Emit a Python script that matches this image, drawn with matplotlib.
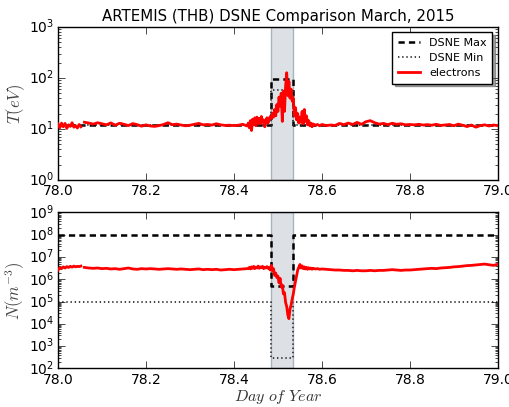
import numpy as np
import matplotlib
matplotlib.use("Agg")
import matplotlib.pyplot as plt
from matplotlib.ticker import FixedLocator, FormatStrFormatter

plt.style.use('classic')
plt.rcParams['figure.facecolor'] = 'white'
plt.rcParams['savefig.facecolor'] = 'white'
plt.rcParams['lines.scale_dashes'] = False
plt.rcParams['font.family'] = ['DejaVu Sans']

# ---------------- data ----------------
title = "ARTEMIS (THB) DSNE Comparison March, 2015"

# event (shaded) window, day of year
event_window = [78.484, 78.535]

# DSNE limits: step functions (value holds from each time to the next)
dsne_time = [78.0, 78.484, 78.535, 79.0]
T_dsne_max = [12.0, 95.0, 12.0, 12.0]
T_dsne_min = [12.0, 58.0, 12.0, 12.0]
N_dsne_max = [1e8, 5e5, 1e8, 1e8]
N_dsne_min = [1e5, 2.8e2, 1e5, 1e5]

# electron measurements (four pieces; data gap between piece a and b)
time_a = [78.000, 78.004, 78.008, 78.012, 78.016, 78.020, 78.024, 78.028,
          78.032, 78.036, 78.040, 78.044, 78.048, 78.052]
time_b = [78.06, 78.07, 78.08, 78.09, 78.10, 78.11, 78.12, 78.13, 78.14, 78.15,
          78.16, 78.17, 78.18, 78.19, 78.20, 78.21, 78.22, 78.23, 78.24, 78.25,
          78.26, 78.27, 78.28, 78.29, 78.30, 78.31, 78.32, 78.33, 78.34, 78.35,
          78.36, 78.37, 78.38, 78.39, 78.40, 78.41, 78.42, 78.43]
time_c = [78.4325, 78.4350, 78.4375, 78.4400, 78.4425, 78.4450, 78.4475, 78.4500,
          78.4525, 78.4550, 78.4575, 78.4600, 78.4625, 78.4650, 78.4675, 78.4700,
          78.4725, 78.4750, 78.4775, 78.4800, 78.4825, 78.4850, 78.4875, 78.4900,
          78.4925, 78.4950, 78.4975, 78.5000, 78.5025, 78.5050, 78.5075, 78.5100,
          78.5125, 78.5150, 78.5175, 78.5200, 78.5225, 78.5250, 78.5275, 78.5300,
          78.5325, 78.5350, 78.5375, 78.5400, 78.5425, 78.5450, 78.5475, 78.5500,
          78.5525, 78.5550, 78.5575, 78.5600, 78.5625, 78.5650, 78.5675, 78.5700,
          78.5725, 78.5750, 78.5775, 78.5800, 78.5850, 78.5900, 78.5950]
time_d = [78.60, 78.61, 78.62, 78.63, 78.64, 78.65, 78.66, 78.67, 78.68, 78.69,
          78.70, 78.71, 78.72, 78.73, 78.74, 78.75, 78.76, 78.77, 78.78, 78.79,
          78.80, 78.81, 78.82, 78.83, 78.84, 78.85, 78.86, 78.87, 78.88, 78.89,
          78.90, 78.91, 78.92, 78.93, 78.94, 78.95, 78.96, 78.97, 78.98, 78.99,
          79.00]

# electron temperature, eV
T_a = [12.5, 10.5, 13.0, 11.0, 12.8, 10.2, 12.0, 11.2, 13.2, 10.8, 11.5, 10.4, 12.2, 11.0]
T_b = [13.5, 13.0, 12.4, 13.2, 12.6, 12.0, 13.1, 11.8, 12.9, 12.3,
       11.6, 12.7, 12.1, 11.3, 12.0, 11.4, 11.2, 11.6, 12.2, 13.2,
       12.1, 12.4, 11.9, 11.5, 11.8, 12.3, 12.8, 12.0, 12.2, 11.9,
       12.6, 12.0, 11.7, 11.8, 11.6, 11.8, 12.3, 11.4]
T_c = [13.0, 10.5, 14.5, 9.3, 15.5, 12.0, 16.5, 11.5,
       17.0, 13.0, 16.0, 12.5, 17.5, 13.5, 15.0, 11.0,
       14.0, 16.5, 13.0, 15.5, 17.5, 16.0, 20.0, 17.0,
       24.0, 18.0, 30.0, 22.0, 42.0, 28.0, 50.0, 14.0,
       55.0, 22.0, 70.0, 126.0, 45.0, 85.0, 40.0, 60.0,
       35.0, 40.0, 18.0, 26.0, 15.0, 20.0, 13.0, 17.0,
       13.5, 22.0, 12.5, 24.0, 14.0, 18.0, 12.0, 14.5,
       11.5, 13.0, 11.0, 12.5, 11.8, 12.2, 11.5]
T_d = [12.2, 11.6, 11.9, 11.7, 12.8, 12.1, 13.0, 12.2, 13.4, 12.3,
       13.8, 14.5, 13.2, 12.4, 12.8, 12.1, 12.9, 12.3, 12.6, 12.0,
       12.2, 12.0, 12.3, 11.9, 12.1, 11.8, 12.3, 11.7, 11.9, 12.2,
       11.5, 12.4, 11.8, 11.1, 11.9, 10.8, 11.6, 12.0, 11.4, 11.9,
       11.6]

# electron density, m^-3
N_a = [2.6e6, 3.3e6, 3.0e6, 3.6e6, 3.2e6, 3.7e6, 3.4e6, 3.8e6, 3.5e6, 3.9e6,
       3.6e6, 3.8e6, 3.7e6, 3.9e6]
N_b = [3.4e6, 3.2e6, 3.1e6, 3.2e6, 3.0e6, 3.1e6, 2.9e6, 3.0e6, 2.8e6, 3.0e6,
       3.2e6, 2.9e6, 2.8e6, 3.0e6, 2.9e6, 3.0e6, 2.9e6, 2.8e6, 2.9e6, 3.0e6,
       2.9e6, 2.8e6, 2.9e6, 2.8e6, 2.7e6, 2.8e6, 2.9e6, 2.7e6, 2.8e6, 2.7e6,
       2.8e6, 2.6e6, 2.7e6, 2.8e6, 2.7e6, 2.8e6, 2.9e6, 3.0e6]
N_c = [3.0e6, 3.4e6, 2.9e6, 3.6e6, 3.1e6, 3.8e6, 3.0e6, 3.5e6,
       3.2e6, 3.9e6, 3.1e6, 3.6e6, 3.3e6, 3.8e6, 3.0e6, 3.5e6,
       3.2e6, 3.7e6, 3.1e6, 3.3e6, 2.6e6, 4.2e6, 2.4e6, 3.0e6,
       1.5e6, 1.9e6, 1.2e6, 1.4e6, 7.0e5, 1.1e6, 4.5e5, 5.5e5,
       2.2e5, 2.5e5, 9.0e4, 6.0e4, 2.5e4, 1.7e4, 4.5e4, 7.0e4,
       1.3e5, 2.2e5, 4.5e5, 8.0e5, 1.5e6, 2.6e6, 3.5e6, 4.6e6,
       3.2e6, 4.0e6, 3.0e6, 3.6e6, 2.9e6, 3.4e6, 2.8e6, 3.3e6,
       2.9e6, 3.2e6, 2.8e6, 3.1e6, 2.9e6, 3.0e6, 2.8e6]
N_d = [2.9e6, 2.8e6, 2.7e6, 2.6e6, 2.6e6, 2.5e6, 2.5e6, 2.4e6, 2.5e6, 2.4e6,
       2.4e6, 2.5e6, 2.4e6, 2.5e6, 2.5e6, 2.6e6, 2.7e6, 2.6e6, 2.5e6, 2.6e6,
       2.6e6, 2.7e6, 2.8e6, 2.9e6, 3.0e6, 3.1e6, 3.0e6, 3.2e6, 3.3e6, 3.4e6,
       3.6e6, 3.7e6, 3.9e6, 4.1e6, 4.2e6, 4.4e6, 4.6e6, 4.8e6, 4.5e6, 4.2e6,
       4.7e6]

x_ticks = [78.0, 78.2, 78.4, 78.6, 78.8, 79.0]


def joined(a, b, c, d):
    # NaN separates the data gap after the first piece
    return np.concatenate([a, [np.nan], b, c, d])


t_all = joined(time_a, time_b, time_c, time_d)
T_all = joined(T_a, T_b, T_c, T_d)
N_all = joined(N_a, N_b, N_c, N_d)

# ---------------- figure ----------------
fig = plt.figure(figsize=(5.09, 4.07), dpi=100)
ax1 = fig.add_axes([0.114, 0.558, 0.864, 0.376])
ax2 = fig.add_axes([0.114, 0.095, 0.864, 0.383])

span_kw = dict(facecolor='#dde1e5', edgecolor='#a9b3bc', lw=1.0, zorder=0)
dash_kw = dict(color='black', lw=1.8, dashes=(4.5, 3.0), drawstyle='steps-post')
dot_kw = dict(color='#333333', lw=1.3, dashes=(1.0, 2.0), drawstyle='steps-post')
red_kw = dict(color='#ff0000', lw=2.0, zorder=3)

for ax, dmax, dmin, vals, ylims in [
        (ax1, T_dsne_max, T_dsne_min, T_all, (1, 1e3)),
        (ax2, N_dsne_max, N_dsne_min, N_all, (1e2, 1e9))]:
    ax.axvspan(event_window[0], event_window[1], **span_kw)
    ax.plot(dsne_time, dmax, label='DSNE Max', **dash_kw)
    ax.plot(dsne_time, dmin, label='DSNE Min', **dot_kw)
    ax.plot(t_all, vals, label='electrons', **red_kw)
    ax.set_yscale('log')
    ax.set_ylim(*ylims)
    ax.set_xlim(78.0, 79.0)
    ax.xaxis.set_major_locator(FixedLocator(x_ticks))
    ax.xaxis.set_major_formatter(FormatStrFormatter('%.1f'))
    ax.tick_params(labelsize=10, direction='in', top=True, right=True)
    ax.tick_params(which='major', length=5)
    ax.tick_params(which='minor', length=2.5)
    ax.tick_params(axis='x', pad=3)
    ax.tick_params(axis='y', pad=3)
    for s in ax.spines.values():
        s.set_linewidth(1.0)

ax1.set_title(title, fontsize=10.8, pad=4)
ax1.set_ylabel(r'$T(eV)$', fontsize=12, color='#444444', labelpad=1)
ax2.set_ylabel(r'$N(m^{-3})$', fontsize=12, color='#444444', labelpad=1)
ax2.set_xlabel(r'$Day\ of\ Year$', fontsize=11.5, color='#333333', labelpad=1)

leg = ax1.legend(loc='upper right', fontsize=8, shadow=True, fancybox=False,
                 handlelength=2.0, borderpad=0.5, labelspacing=0.45,
                 framealpha=1.0, numpoints=1)
leg.get_frame().set_linewidth(1.0)

fig.savefig('out.png', dpi=100)
